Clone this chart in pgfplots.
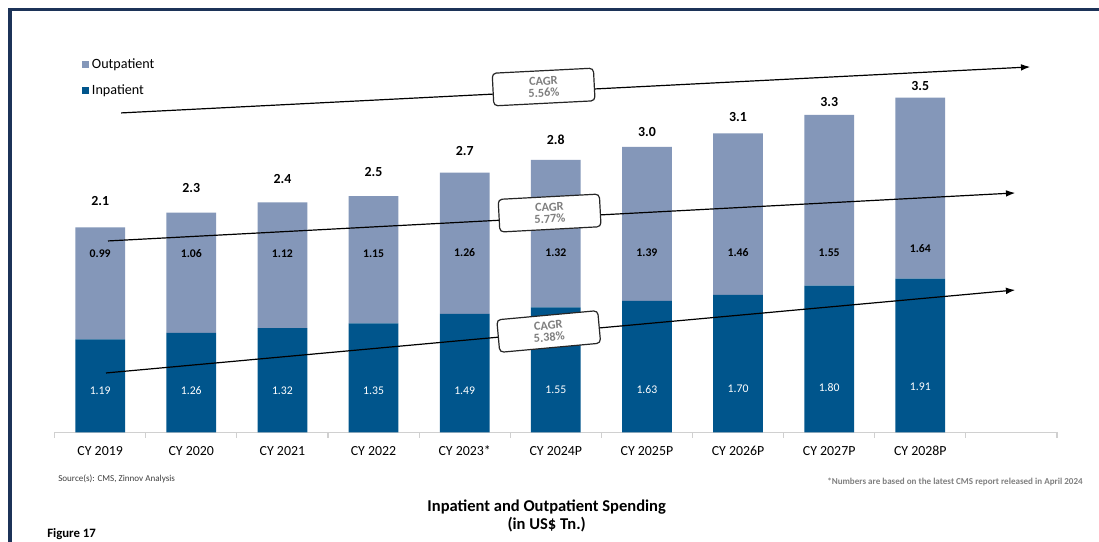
\documentclass[border=0pt]{standalone}
\usepackage{pgfplots}
\pgfplotsset{compat=1.18}
\usepackage{pgfplotstable}
\usepackage{fontspec}
\setmainfont{Carlito}
\usetikzlibrary{arrows.meta}

\definecolor{inpat}{HTML}{00558C}
\definecolor{outpat}{HTML}{8497B9}
\definecolor{navy}{HTML}{1C3358}
\definecolor{axgray}{HTML}{D0D0D0}
\definecolor{boxtxt}{HTML}{7F7F7F}

% in/out: drawn segment heights; inlab/outlab/tot: printed values; iny/outy/toty: label heights
\pgfplotstableread{
x in out inlab outlab tot iny outy toty
0 1.165 1.400 1.19 0.99 2.1 0.525 2.231 2.894
1 1.244 1.504 1.26 1.06 2.3 0.525 2.231 3.056
2 1.306 1.571 1.32 1.12 2.4 0.525 2.231 3.169
3 1.365 1.588 1.35 1.15 2.5 0.525 2.231 3.256
4 1.481 1.766 1.49 1.26 2.7 0.525 2.244 3.519
5 1.565 1.841 1.55 1.32 2.8 0.537 2.244 3.656
6 1.644 1.925 1.63 1.39 3.0 0.537 2.244 3.760
7 1.719 2.021 1.70 1.46 3.1 0.550 2.244 3.948
8 1.835 2.134 1.80 1.55 3.3 0.562 2.244 4.135
9 1.923 2.263 1.91 1.64 3.5 0.575 2.294 4.335
}\data

\pgfplotsset{
  myax/.style={
    at={(40.95pt,82.125pt)}, anchor=south west,
    scale only axis, width=751.8pt, height=294.4pt,
    xmin=-0.5, xmax=10.5, ymin=0, ymax=4.906,
  },
}
\tikzset{
  cagr/.style={
    draw=black!85, line width=0.9pt, rounded corners=3pt, fill=white,
    align=center, font=\fontsize{9.2}{8.8}\selectfont\bfseries, text=boxtxt,
    minimum width=76pt, minimum height=24.5pt, inner sep=1pt
  }
}

\begin{document}
\begin{tikzpicture}
\useasboundingbox (0,0) rectangle (824.25pt,406.5pt);
\fill[white] (0,0) rectangle (824.25pt,406.5pt);

\begin{axis}[myax,
  ybar stacked, bar width=37.3pt,
  axis x line*=bottom, axis y line=none,
  x axis line style={axgray, line width=0.8pt, -},
  xtick={0,...,9},
  xticklabels={CY 2019,CY 2020,CY 2021,CY 2022,CY 2023*,CY 2024P,CY 2025P,CY 2026P,CY 2027P,CY 2028P},
  major tick length=0pt,
  minor xtick={-0.5,0.5,...,10.5},
  minor tick length=4pt, tick align=outside,
  minor tick style={axgray, line width=0.8pt},
  xticklabel style={font=\fontsize{10.4}{12}\selectfont, text=black, anchor=base, yshift=-17pt},
  reverse legend,
  legend style={at={(0.0233,0.967)}, anchor=north west, draw=none, fill=none,
    font=\fontsize{10.6}{12}\selectfont, row sep=6.5pt, cells={anchor=west}},
  legend image code/.code={\fill[#1] (0pt,-2.6pt) rectangle (5.3pt,2.6pt);},
]
\addplot[fill=inpat, draw=none] table[x=x, y=in]{\data};
\addlegendentry{Inpatient}
\addplot[fill=outpat, draw=none] table[x=x, y=out]{\data};
\addlegendentry{Outpatient}
\end{axis}

\begin{axis}[myax, hide axis, clip=false]
\addplot[only marks, mark=*, mark size=0pt, mark options={draw=none, fill=none},
  nodes near coords, point meta=explicit symbolic,
  nodes near coords style={font=\fontsize{8.8}{10}\selectfont, text=white, anchor=center}]
  table[x=x, y=iny, meta=inlab]{\data};
\addplot[only marks, mark=*, mark size=0pt, mark options={draw=none, fill=none},
  nodes near coords, point meta=explicit symbolic,
  nodes near coords style={font=\fontsize{8.8}{10}\selectfont\bfseries, text=black, anchor=center}]
  table[x=x, y=outy, meta=outlab]{\data};
\addplot[only marks, mark=*, mark size=0pt, mark options={draw=none, fill=none},
  nodes near coords, point meta=explicit symbolic,
  nodes near coords style={font=\fontsize{10.4}{12}\selectfont\bfseries, text=black, anchor=center}]
  table[x=x, y=toty, meta=tot]{\data};

\draw[-{Latex[length=7pt,width=5pt]}, line width=0.9pt]
  (axis cs:0.229,3.994) -- node[cagr, pos=0.465, sloped, yshift=3.4pt] {CAGR\\5.56\%} (axis cs:10.207,4.569);
\draw[-{Latex[length=7pt,width=5pt]}, line width=0.9pt]
  (axis cs:0.086,2.394) -- node[cagr, pos=0.487, sloped, yshift=3.4pt] {CAGR\\5.77\%} (axis cs:10.042,2.994);
\draw[-{Latex[length=7pt,width=5pt]}, line width=0.9pt]
  (axis cs:0.064,0.744) -- node[cagr, pos=0.487, sloped, yshift=0.8pt] {CAGR\\5.38\%} (axis cs:10.042,1.781);
\end{axis}

\draw[navy, line width=2.3pt] (7.5pt,-3pt) -- (7.5pt,399.4pt) -- (830pt,399.4pt);

\node[anchor=west, font=\fontsize{6.8}{8}\selectfont, text=black!75, inner sep=0pt] at (43.5pt,47.5pt) {Source(s): CMS, Zinnov Analysis};
\node[anchor=east, font=\fontsize{6.8}{8}\selectfont\bfseries, text=black!50, inner sep=0pt] at (812.25pt,45pt) {*Numbers are based on the latest CMS report released in April 2024};
\node[font=\fontsize{12.4}{13.5}\selectfont\bfseries, align=center, inner sep=0pt] at (410pt,19.8pt) {Inpatient and Outpatient Spending\\(in US\$ Tn.)};
\node[anchor=west, font=\fontsize{9.6}{11}\selectfont\bfseries, inner sep=0pt] at (35.25pt,6pt) {Figure 17};
\end{tikzpicture}
\end{document}
